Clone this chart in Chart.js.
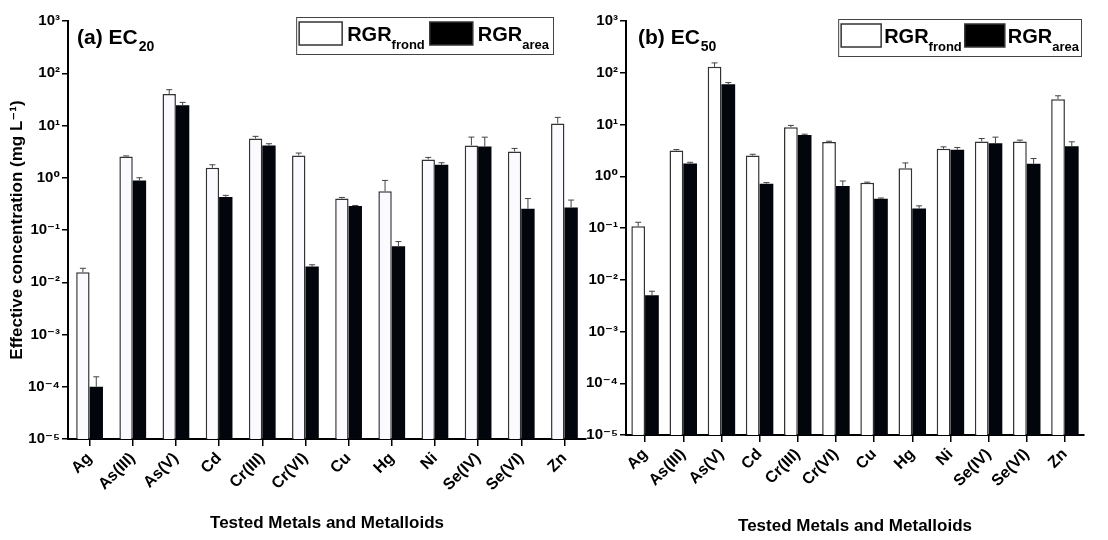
<!DOCTYPE html>
<html>
<head>
<meta charset="utf-8">
<script src="https://cdn.jsdelivr.net/npm/chart.js@4.4.1/dist/chart.umd.min.js"></script>
<style>
  body { margin: 0; background: #fff; }
  .panel { position: absolute; top: 0; }
</style>
</head>
<body>
<div class="panel" style="left:0px"><canvas id="chartA" width="592" height="540"></canvas></div>
<div class="panel" style="left:566px"><canvas id="chartB" width="542" height="540"></canvas></div>
<script>
const metals = ['Ag', 'As(III)', 'As(V)', 'Cd', 'Cr(III)', 'Cr(VI)', 'Cu', 'Hg', 'Ni', 'Se(IV)', 'Se(VI)', 'Zn'];
const decades = [1e-5, 1e-4, 1e-3, 1e-2, 1e-1, 1e0, 1e1, 1e2, 1e3];

// EC20 (mg/L)
const ec20Frond = [0.0155, 2.56, 40.2, 1.55, 5.66, 2.67, 0.40, 0.55, 2.24, 4.16, 3.19, 10.9];
const ec20FrondErr = [0.003, 0.06, 8.3, 0.22, 0.54, 0.30, 0.02, 0.34, 0.21, 1.84, 0.45, 3.4];
const ec20Area = [0.0001, 0.89, 24.3, 0.43, 4.16, 0.020, 0.287, 0.049, 1.77, 3.98, 0.255, 0.27];
const ec20AreaErr = [0.000055, 0.11, 3.4, 0.03, 0.32, 0.0016, 0.008, 0.011, 0.17, 2.0, 0.145, 0.104];

// EC50 (mg/L)
const ec50Frond = [0.108, 3.14, 130, 2.51, 8.87, 4.6, 0.745, 1.43, 3.39, 4.69, 4.69, 30.9];
const ec50FrondErr = [0.021, 0.14, 25, 0.15, 0.73, 0.15, 0.025, 0.38, 0.31, 0.67, 0.30, 5.0];
const ec50Area = [0.005, 1.76, 60, 0.72, 6.3, 0.65, 0.366, 0.237, 3.24, 4.35, 1.74, 3.8];
const ec50AreaErr = [0.001, 0.10, 4.6, 0.035, 0.20, 0.16, 0.014, 0.031, 0.36, 1.35, 0.46, 0.83];

const FONT = "'Liberation Sans Narrow', 'Arial Narrow', 'Liberation Sans', 'DejaVu Sans', sans-serif";
const sup = {'0':'\u2070','1':'\u00b9','2':'\u00b2','3':'\u00b3','4':'\u2074','5':'\u2075','-':'\u207b'};
function powLabel(v) {
  const e = String(Math.round(Math.log10(v)));
  return '10' + e.split('').map(c => sup[c]).join('');
}

// error bars (upper side only)
const errorBars = {
  id: 'errorBars',
  afterDatasetsDraw(chart) {
    const ctx = chart.ctx;
    const y = chart.scales.y;
    chart.data.datasets.forEach((ds, i) => {
      const meta = chart.getDatasetMeta(i);
      meta.data.forEach((bar, j) => {
        const top = y.getPixelForValue(ds.data[j] + ds.errors[j]);
        ctx.save();
        ctx.strokeStyle = '#444';
        ctx.lineWidth = 1;
        ctx.beginPath();
        ctx.moveTo(bar.x, bar.y);
        ctx.lineTo(bar.x, top);
        ctx.moveTo(bar.x - 3, top);
        ctx.lineTo(bar.x + 3, top);
        ctx.stroke();
        ctx.restore();
      });
    });
  }
};

// panel tag and legend with subscripts
const decorations = {
  id: 'decorations',
  afterDraw(chart, args, opts) {
    const ctx = chart.ctx;
    const area = chart.chartArea;
    ctx.save();
    ctx.fillStyle = '#000';
    ctx.textBaseline = 'alphabetic';
    // panel tag
    let x = area.left + opts.tagX;
    ctx.font = 'bold 21px ' + FONT;
    ctx.fillText(opts.tag, x, 44);
    x += ctx.measureText(opts.tag).width + 1;
    ctx.font = 'bold 14px ' + FONT;
    ctx.fillText(opts.tagSub, x, 51);

    // legend, laid out from its right edge
    const by = opts.legendY, bh = 37;
    const sw = opts.swatch, gap = opts.gap;
    const items = [['RGR', 'frond', '#fff'], ['RGR', 'area', '#000']];
    const parts = [];
    let cx = 0;
    items.forEach(it => {
      ctx.font = 'bold 20px ' + FONT;
      const w1 = ctx.measureText(it[0]).width;
      ctx.font = 'bold 13px ' + FONT;
      const w2 = ctx.measureText(it[1]).width;
      parts.push({ x: cx, tx: cx + sw + gap, w1: w1, fill: it[2] });
      cx += sw + gap + w1 + w2 + gap;
    });
    const total = cx + 2;
    const bx = opts.legendRight - total;
    ctx.strokeStyle = '#444';
    ctx.lineWidth = 1;
    ctx.strokeRect(bx + 0.5, by + 0.5, total, bh);
    parts.forEach((p, k) => {
      const px = bx + 3 + p.x;
      ctx.fillStyle = p.fill;
      ctx.fillRect(px, by + 5, sw, 23);
      ctx.strokeStyle = '#333';
      ctx.lineWidth = 1.5;
      ctx.strokeRect(px, by + 5, sw, 23);
      ctx.fillStyle = '#000';
      ctx.font = 'bold 20px ' + FONT;
      ctx.fillText(items[k][0], bx + 3 + p.tx, by + 24);
      ctx.font = 'bold 13px ' + FONT;
      ctx.fillText(items[k][1], bx + 3 + p.tx + p.w1, by + 32);
    });
    ctx.restore();
  }
};

function makeChart(id, frond, frondErr, area, areaErr, cfg) {
  return new Chart(document.getElementById(id), {
    type: 'bar',
    data: {
      labels: metals,
      datasets: [
        { label: 'RGR frond', data: frond, errors: frondErr, backgroundColor: cfg.white,
          borderColor: '#333', borderWidth: 1.5, barPercentage: 1, categoryPercentage: cfg.cat },
        { label: 'RGR area', data: area, errors: areaErr, backgroundColor: '#03050c',
          borderColor: '#000', borderWidth: 0, barPercentage: 1, categoryPercentage: cfg.cat }
      ]
    },
    options: {
      responsive: false,
      animation: false,
      layout: { padding: { top: cfg.top, right: cfg.right, left: 0, bottom: 0 } },
      plugins: {
        legend: { display: false },
        tooltip: { enabled: false },
        decorations: cfg.deco
      },
      scales: {
        x: {
          offset: true,
          grid: { display: true, offset: false, drawOnChartArea: false, color: '#000', lineWidth: 1.5, tickLength: 7 },
          border: { display: true, color: '#000', width: 2 },
          ticks: { color: '#000', minRotation: 45, maxRotation: 45, padding: 3,
                   font: { family: FONT, size: 16, weight: 'bold' } },
          title: { display: true, text: 'Tested Metals and Metalloids', color: '#000',
                   font: { family: FONT, size: 17, weight: 'bold' }, padding: { top: 0, bottom: cfg.xTitlePad } },
          afterFit(scale) { scale.height = cfg.xHeight; }
        },
        y: {
          type: 'logarithmic',
          min: 1e-5,
          max: 1e3,
          grid: { display: true, drawOnChartArea: false, color: '#000', lineWidth: 1.5, tickLength: 6 },
          border: { display: true, color: '#000', width: 2 },
          ticks: { color: '#000', padding: 2, font: { family: FONT, size: 15, weight: 'bold' },
                   callback: v => powLabel(v) },
          afterBuildTicks(scale) { scale.ticks = decades.map(v => ({ value: v, major: true })); },
          title: { display: cfg.yTitle, text: 'Effective concentration (mg L\u207b\u00b9)', color: '#000',
                   font: { family: FONT, size: 17, weight: 'bold' }, padding: { top: 7, bottom: 0 } },
          afterFit(scale) { scale.width = cfg.yWidth; }
        }
      }
    },
    plugins: [errorBars, decorations]
  });
}

makeChart('chartA', ec20Frond, ec20FrondErr, ec20Area, ec20AreaErr, {
  white: '#fbfbff', cat: 0.62, top: 21, right: 6, xHeight: 101, yWidth: 68, yTitle: true, xTitlePad: 6,
  deco: { tag: '(a) EC', tagSub: '20', tagX: 9, legendRight: 553, legendY: 17, swatch: 43, gap: 5 }
});
makeChart('chartB', ec50Frond, ec50FrondErr, ec50Area, ec50AreaErr, {
  white: '#ffffff', cat: 0.72, top: 21, right: 24, xHeight: 105, yWidth: 60, yTitle: false, xTitlePad: 3,
  deco: { tag: '(b) EC', tagSub: '50', tagX: 12, legendRight: 515, legendY: 19, swatch: 40, gap: 3 }
});
</script>
</body>
</html>
